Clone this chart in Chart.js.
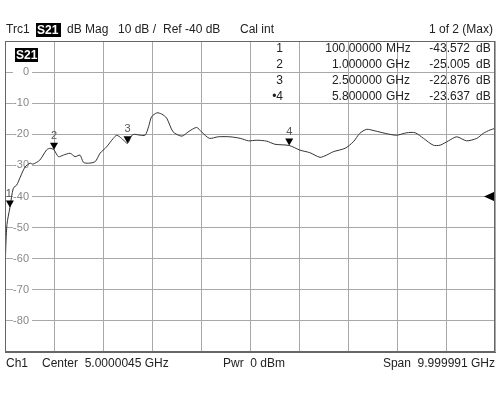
<!DOCTYPE html>
<html>
<head>
<meta charset="utf-8">
<script src="https://cdn.jsdelivr.net/npm/chart.js@4.4.1/dist/chart.umd.min.js"></script>
<style>
  body { margin: 0; background: #fff; }
  canvas { display: block; }
</style>
</head>
<body>
<canvas id="c" width="500" height="412"></canvas>
<script>
// trace S21, frequency in GHz
const freqGHz = [0.0, 0.01, 0.04, 0.1, 0.17, 0.24, 0.31, 0.41, 0.51, 0.57, 0.71, 0.85, 0.92, 1.0,
  1.09, 1.19, 1.33, 1.43, 1.53, 1.6, 1.7, 1.84, 1.94, 2.07, 2.21, 2.28, 2.38, 2.5, 2.59, 2.65,
  2.76, 2.86, 2.93, 2.99, 3.1, 3.2, 3.3, 3.43, 3.61, 3.74, 3.91, 4.01, 4.17, 4.35, 4.59, 4.8,
  4.97, 5.14, 5.34, 5.51, 5.8, 6.02, 6.22, 6.43, 6.56, 6.7, 6.94, 7.11, 7.24, 7.38, 7.55, 7.76,
  7.99, 8.2, 8.37, 8.54, 8.74, 8.88, 9.05, 9.22, 9.42, 9.63, 9.76, 9.9, 10.0];
const s21dB = [-92, -60, -49, -43.6, -37.3, -36.3, -33.8, -30.5, -29.3, -29.6, -28.3, -25, -24.5, -25.0,
  -27.2, -26.7, -26.1, -27.2, -26.7, -29.0, -29.3, -28.8, -26.1, -24.1, -21.3, -20.3, -21.3, -22.9, -20.3, -20.0,
  -20.3, -20.3, -17.6, -14.4, -13.1, -13.5, -14.8, -19.2, -20.6, -19.2, -17.8, -19.2, -21.3, -20.8, -20.8, -21.3,
  -22.1, -21.9, -22.2, -23.2, -23.6, -25.1, -25.9, -27.4, -26.7, -25.6, -24.5, -22.4, -19.7, -18.4, -18.9, -19.7,
  -20.3, -19.5, -19.5, -21.3, -23.5, -23.5, -22.1, -20.8, -22.1, -21.3, -19.7, -18.6, -18.1];

const markerNames = ['1', '2', '3', '4'];
const markerFreq = [0.1, 1.0, 2.5, 5.8];
const markerDb = [-43.572, -25.005, -22.876, -23.637];
const markerFreqText = ['100.00000', '1.000000', '2.500000', '5.800000'];
const markerUnit = ['MHz', 'GHz', 'GHz', 'GHz'];

const yTicks = [0, -10, -20, -30, -40, -50, -60, -70, -80];
const refLevel = -40;

const FONT = '"Liberation Sans", Arial, sans-serif';

const overlay = {
  id: 'overlay',
  beforeDatasetsDraw(chart) {
    const { ctx, scales: { y } } = chart;
    ctx.save();
    ctx.font = '11px ' + FONT;
    ctx.textAlign = 'right';
    ctx.textBaseline = 'middle';
    yTicks.forEach((v) => {
      const py = y.getPixelForValue(v);
      ctx.fillStyle = '#fff';
      ctx.fillRect(13, py - 5, 19, 10);
      ctx.fillStyle = '#888';
      ctx.fillText(String(v), 29, py);
    });
    // S21 badge inside plot
    ctx.fillStyle = '#000';
    ctx.fillRect(15, 48, 23, 14);
    ctx.fillStyle = '#fff';
    ctx.font = 'bold 12px ' + FONT;
    ctx.textAlign = 'left';
    ctx.fillText('S21', 16, 55.5);
    ctx.restore();
  },
  afterDatasetsDraw(chart) {
    const { ctx, scales: { x, y }, chartArea } = chart;
    ctx.save();
    // marker triangles
    markerFreq.forEach((f, i) => {
      const px = x.getPixelForValue(f);
      const py = y.getPixelForValue(markerDb[i]);
      ctx.fillStyle = '#000';
      ctx.beginPath();
      ctx.moveTo(px, py);
      ctx.lineTo(px - 4, py - 7);
      ctx.lineTo(px + 4, py - 7);
      ctx.closePath();
      ctx.fill();
      ctx.fillStyle = '#555';
      ctx.font = '11px ' + FONT;
      ctx.textAlign = 'center';
      ctx.textBaseline = 'middle';
      ctx.fillText(markerNames[i], px - (i === 0 ? 1 : 0), py - 14);
    });
    // reference level arrow
    const ry = y.getPixelForValue(refLevel);
    ctx.fillStyle = '#000';
    ctx.beginPath();
    ctx.moveTo(chartArea.right - 11, ry);
    ctx.lineTo(chartArea.right, ry - 5);
    ctx.lineTo(chartArea.right, ry + 5);
    ctx.closePath();
    ctx.fill();

    // marker table
    ctx.font = '12px ' + FONT;
    ctx.fillStyle = '#222';
    ctx.textBaseline = 'middle';
    const rowY = [49, 65, 81, 97];
    markerNames.forEach((n, i) => {
      const ty = rowY[i];
      ctx.textAlign = 'right';
      ctx.fillText((i === 3 ? '\u2022' : '') + n, 283, ty);
      ctx.fillText(markerFreqText[i], 382, ty);
      ctx.fillText(markerDb[i].toFixed(3), 470, ty);
      ctx.textAlign = 'left';
      ctx.fillText(markerUnit[i], 386, ty);
      ctx.fillText('dB', 476, ty);
    });

    // header
    ctx.textBaseline = 'middle';
    ctx.textAlign = 'left';
    ctx.fillStyle = '#222';
    ctx.fillText('Trc1', 6, 30);
    ctx.fillStyle = '#000';
    ctx.fillRect(36, 23, 25, 14);
    ctx.fillStyle = '#fff';
    ctx.font = 'bold 12px ' + FONT;
    ctx.fillText('S21', 37, 30.5);
    ctx.font = '12px ' + FONT;
    ctx.fillStyle = '#222';
    ctx.fillText('dB Mag', 67, 30);
    ctx.fillText('10 dB /', 118, 30);
    ctx.fillText('Ref -40 dB', 163, 30);
    ctx.fillText('Cal int', 240, 30);
    ctx.textAlign = 'right';
    ctx.fillText('1 of 2 (Max)', 493, 30);

    // footer
    ctx.textAlign = 'left';
    ctx.fillText('Ch1', 6, 364);
    ctx.fillText('Center  5.0000045 GHz', 42, 364);
    ctx.fillText('Pwr  0 dBm', 223, 364);
    ctx.textAlign = 'right';
    ctx.fillText('Span  9.999991 GHz', 495, 364);
    ctx.restore();
  }
};

new Chart(document.getElementById('c'), {
  type: 'line',
  data: {
    datasets: [{
      data: freqGHz.map((f, i) => ({ x: f, y: s21dB[i] })),
      borderColor: '#333',
      borderWidth: 1,
      pointRadius: 0,
      tension: 0.25,
    }],
  },
  options: {
    responsive: false,
    animation: false,
    layout: {
      padding: { top: 41, bottom: 60, left: 5, right: 5 },
    },
    scales: {
      x: {
        type: 'linear',
        min: 0,
        max: 10,
        ticks: { display: false, stepSize: 1 },
        grid: { color: '#a8a8a8', drawTicks: false },
        border: { color: '#666' },
        afterFit: (s) => { s.height = 0; },
      },
      y: {
        min: -90,
        max: 10,
        ticks: { display: false, stepSize: 10 },
        grid: { color: '#a8a8a8', drawTicks: false },
        border: { color: '#666' },
        afterFit: (s) => { s.width = 0; },
      },
    },
    plugins: {
      legend: { display: false },
      tooltip: { enabled: false },
    },
  },
  plugins: [overlay, {
    id: 'frame',
    afterDraw(chart) {
      const { ctx, chartArea: a } = chart;
      ctx.save();
      ctx.strokeStyle = '#666';
      ctx.lineWidth = 1;
      ctx.strokeRect(a.left + 0.5, a.top + 0.5, a.right - a.left - 1, a.bottom - a.top - 1);
      ctx.restore();
    }
  }],
});
</script>
</body>
</html>
